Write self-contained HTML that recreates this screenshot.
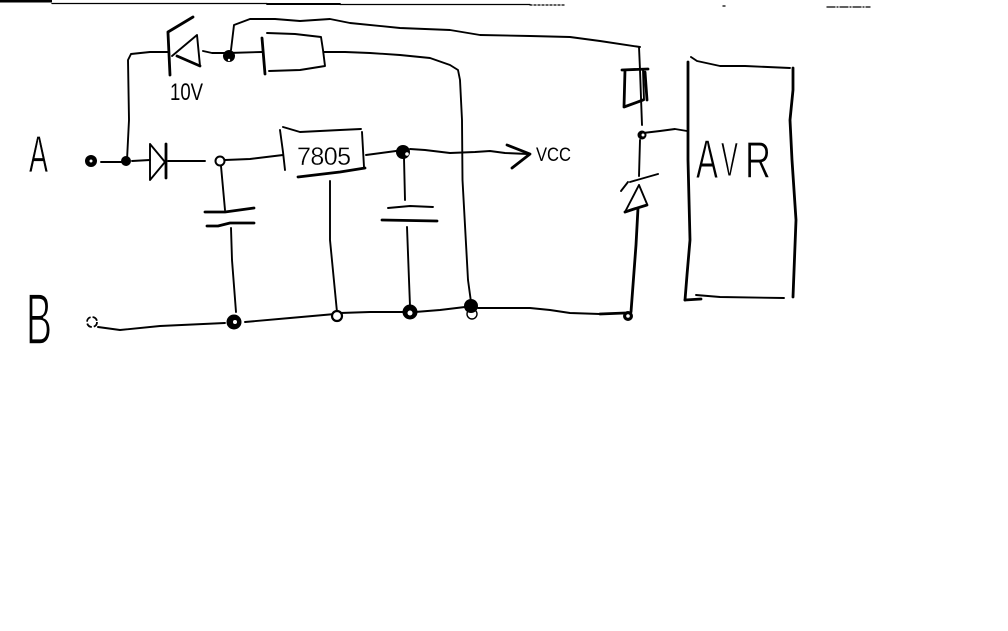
<!DOCTYPE html>
<html>
<head>
<meta charset="utf-8">
<style>
html,body{margin:0;padding:0;background:#fff;width:1008px;height:631px;overflow:hidden}
svg{display:block}
.w{fill:none;stroke:#000;stroke-width:1.9;stroke-linejoin:round;stroke-linecap:round}
.t{stroke-width:2.8}
.f{stroke-width:1.3}
text{font-family:"Liberation Sans",sans-serif;fill:#000;stroke:#fff}
</style>
</head>
<body>
<svg width="1008" height="631" viewBox="0 0 1008 631" xmlns="http://www.w3.org/2000/svg">
<rect width="1008" height="631" fill="#fff" stroke="none"/>

<!-- handwritten labels -->
<text x="29" y="172" font-size="52" stroke-width="0.8" textLength="19" lengthAdjust="spacingAndGlyphs">A</text>
<text x="26" y="344" font-size="72" stroke-width="1.6" textLength="26" lengthAdjust="spacingAndGlyphs">B</text>
<text x="170" y="100" font-size="24" stroke="none" style="stroke:none" textLength="33" lengthAdjust="spacingAndGlyphs">10V</text>
<text x="297" y="165" font-size="25" stroke-width="0.3" textLength="54" lengthAdjust="spacing">7805</text>
<text x="536" y="161" font-size="19" style="stroke:none" textLength="35" lengthAdjust="spacingAndGlyphs">VCC</text>
<text x="696" y="178" font-size="55" stroke-width="1" textLength="22" lengthAdjust="spacingAndGlyphs">A</text>
<text x="721" y="176" font-size="48" stroke-width="1" textLength="17" lengthAdjust="spacingAndGlyphs">V</text>
<text x="745" y="178" font-size="52" stroke-width="1" textLength="26" lengthAdjust="spacingAndGlyphs">R</text>

<!-- scan artefacts at the top -->
<path d="M0 1H52" stroke="#000" stroke-width="3" fill="none"/>
<path class="w f" d="M52 3.5H267"/>
<path class="w" d="M267 4H340"/>
<path class="w f" d="M340 4.5H530"/>
<path class="w f" stroke-dasharray="2 2" d="M530 5H565"/>
<path class="w f" stroke-dasharray="8 2 1 2" d="M827 7H870"/>
<path class="w f" d="M723 6h2"/>

<!-- input A, Z-diode branch -->
<path class="w" d="M101 162L127 162"/>
<path class="w" d="M127 160L129 120L128 60L131 54L150 52L168 52"/>
<path class="w t" d="M168 33L170 75"/>
<path class="w t" d="M168 32L193 17"/>
<path class="w" d="M172 56L197 35L200 66"/>
<path class="w t" d="M177 56L200 66"/>
<path class="w" d="M203 51L212 53L228 53L262 52"/>
<path class="w" d="M231 50L234 25L250 19L275 19L300 21L330 19L350 23L400 28L450 30L480 35L530 36L570 37L600 41L640 47"/>

<!-- resistor -->
<path class="w t" d="M262 38L265 74"/>
<path class="w" d="M267 33L295 34L321 37L323 50L325 66L300 70L269 71"/>
<path class="w" d="M324 52L345 52L370 53L400 55L430 58L450 65L458 70L460 80L462 120L462.500 180L468 280L471 302"/>

<!-- series diode -->
<path class="w" d="M132 161L150 160"/>
<path class="w" d="M150 144L150 180L165 162L150 144"/>
<path class="w t" d="M166 144L166 178"/>
<path class="w" d="M168 161L205 161"/>
<path class="w" d="M225 160L250 159L283 155"/>

<!-- 7805 box -->
<path class="w" d="M280 130L283 152L285 170"/>
<path class="w" d="M283 127L300 132L340 130L361 129"/>
<path class="w" d="M362 132L364 167"/>
<path class="w t" d="M298 177L340 172L365 168"/>
<path class="w" d="M330 181L330 240L337 312"/>

<!-- VCC wire -->
<path class="w" d="M366 155L396 151"/>
<path class="w" d="M410 149L425 150L450 153L475 152L490 151L505 153L528 154"/>
<path class="w t" d="M507 145L530 154L512 168"/>

<!-- left capacitor -->
<path class="w" d="M221 166L225 210"/>
<path class="w t" d="M205 212L225 212L254 208"/>
<path class="w t" d="M207 226L218 226L230 223L254 223"/>
<path class="w" d="M231 228L232 260L236 312"/>

<!-- right capacitor -->
<path class="w" d="M404 158L405 200"/>
<path class="w" d="M388 208L410 206L433 207"/>
<path class="w t" d="M382 220L437 221"/>
<path class="w" d="M407 227L409 280L410 306"/>

<!-- ground rail -->
<path class="w" d="M98 327L120 330L160 326L225 323"/>
<path class="w" d="M245 322L290 318L335 314"/>
<path class="w" d="M340 313L370 312L405 312"/>
<path class="w" d="M415 312L440 310L465 307"/>
<path class="w" d="M478 308L530 308L550 310L570 313L600 314"/>
<path class="w t" d="M600 314L625 313"/>

<!-- right column -->
<path class="w" d="M639 47L640 70L642 125"/>
<path class="w t" d="M622 70L648 69"/>
<path class="w t" d="M625 70L624 107L643 100"/>
<path class="w t" d="M645 72L647 100"/>
<path class="w" d="M643 70L644 100"/>
<path class="w" d="M643 133L660 131L675 129L687 131"/>
<path class="w" d="M640 140L639 176"/>
<path class="w" d="M630 182L658 174"/>
<path class="w" d="M621 191L628 182"/>
<path class="w" d="M639 185L625 212M639 185L647 204"/>
<path class="w t" d="M625 212L634 209L647 205"/>
<path class="w t" d="M638 208L636 245L631 312"/>

<!-- AVR box -->
<path class="w t" d="M688 62L688 160L690 240L687 275L685 300"/>
<path class="w t" d="M685 300L701 299"/>
<path class="w" d="M696 295L720 297L784 298"/>
<path class="w" d="M691 57L697 61L720 66L745 66L790 68"/>
<path class="w t" d="M793 68L793 90L790 120L792 160L796 220L793 297"/>

<!-- junctions -->
<circle cx="91" cy="161" r="6" fill="#000"/><circle cx="91" cy="161" r="1.500" fill="#fff"/>
<circle cx="126" cy="161" r="5" fill="#000"/>
<circle cx="229" cy="56" r="6" fill="#000"/><circle cx="229" cy="60" r="1.200" fill="#fff"/>
<circle cx="220" cy="161" r="4.500" fill="#fff" stroke="#000" stroke-width="2"/>
<circle cx="403" cy="152" r="7" fill="#000"/><circle cx="407" cy="154" r="1.800" fill="#fff"/>
<circle cx="92" cy="322" r="5" fill="#fff" stroke="#000" stroke-width="1.800" stroke-dasharray="6 2"/>
<circle cx="234" cy="322" r="7.500" fill="#000"/><circle cx="235" cy="322" r="2" fill="#fff"/>
<circle cx="337" cy="316" r="5" fill="#fff" stroke="#000" stroke-width="2.200"/>
<circle cx="410" cy="312" r="7.500" fill="#000"/><circle cx="410" cy="313" r="2.500" fill="#fff"/>
<circle cx="472" cy="314" r="5" fill="#fff" stroke="#000" stroke-width="1.400"/>
<circle cx="471" cy="306" r="7" fill="#000"/>
<circle cx="628" cy="316" r="5" fill="#000"/><circle cx="628" cy="316" r="1.800" fill="#fff"/>
<circle cx="642" cy="135" r="4.500" fill="#000"/><circle cx="643" cy="135" r="1.500" fill="#fff"/>
</svg>
</body>
</html>
